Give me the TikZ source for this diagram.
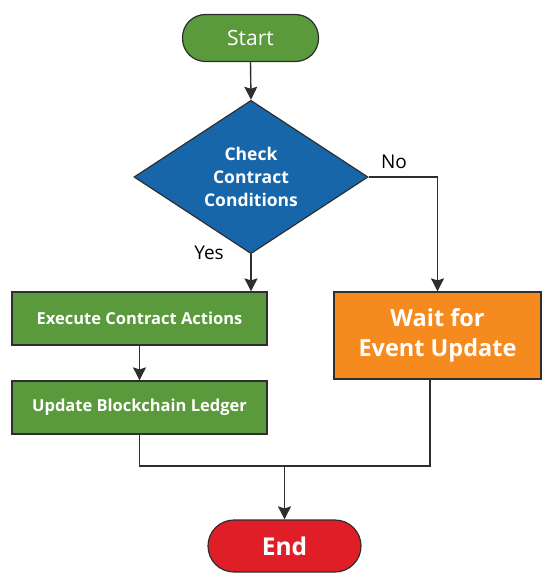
\documentclass[tikz,border=0pt]{standalone}
\usepackage{fontspec}
\setmainfont{Open Sans}
\usetikzlibrary{shapes.geometric,arrows.meta}
\definecolor{gbox}{HTML}{5A9A3C}
\definecolor{bdia}{HTML}{1866AA}
\definecolor{obox}{HTML}{F58A1F}
\definecolor{rbox}{HTML}{E01E27}
\definecolor{edge}{HTML}{2E2E2E}
\tikzset{
  box/.style={draw=edge, line width=1.2pt, text=white, inner sep=0pt, align=center},
  term/.style={box, rounded corners=23pt},
  arr/.style={draw=edge, line width=1.4pt, -{Stealth[length=13pt,width=13pt,inset=2pt]}},
  ln/.style={draw=edge, line width=1.4pt},
  lbl/.style={font=\fontsize{19}{22}\selectfont, text=black}
}
\begin{document}
\begin{tikzpicture}[x=1pt,y=-1pt]
\useasboundingbox (0,0) rectangle (550,586);
\node[term, fill=gbox, minimum width=136pt, minimum height=47pt, font=\fontsize{21}{25}\selectfont] (start) at (250.5,38) {Start};
\node[box, shape=diamond, fill=bdia, minimum width=234pt, minimum height=141pt, font=\bfseries\fontsize{17.5}{23}\selectfont] (dec) at (251,177) {Check\\Contract\\Conditions};
\node[box, fill=gbox, minimum width=255pt, minimum height=53pt, font=\bfseries\fontsize{16.5}{19}\selectfont] (exec) at (139.5,318.5) {Execute Contract Actions};
\node[box, fill=gbox, minimum width=255pt, minimum height=53pt, font=\bfseries\fontsize{16.5}{19}\selectfont] (upd) at (139.5,407.5) {Update Blockchain Ledger};
\node[box, fill=obox, minimum width=207pt, minimum height=87pt, font=\bfseries\fontsize{23.5}{30}\selectfont] (wait) at (437.5,335.5) {Wait for\\Event Update};
\node[term, rounded corners=26pt, fill=rbox, minimum width=153pt, minimum height=52pt, font=\bfseries\fontsize{24.5}{28}\selectfont] (end) at (284.5,546) {End};
\coordinate (join) at (284.5,466);
\coordinate (wbot) at (430,379);
\draw[arr] (start.south) -- (dec.north);
\draw[arr] (dec.east) -| (wait.north);
\draw[arr] (dec.south) -- (dec.south |- exec.north);
\draw[arr] (exec.south) -- (upd.north);
\draw[ln] (upd.south) |- (join) -| (wait.south -| wbot);
\draw[arr] (join) -- (end.north);
\node[lbl] (no) at (394,162) {No};
\node[lbl] (yes) at (209,253) {Yes};
\end{tikzpicture}
\end{document}
